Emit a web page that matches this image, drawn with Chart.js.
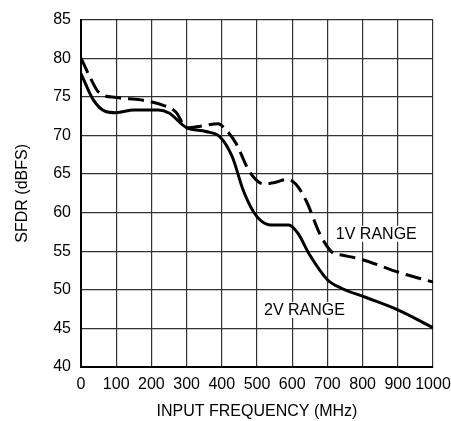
<!DOCTYPE html>
<html>
<head>
<meta charset="utf-8">
<script src="https://cdn.jsdelivr.net/npm/chart.js@4/dist/chart.umd.min.js"></script>
<style>
  html, body { margin: 0; padding: 0; background: #fff; }
  #wrap { width: 451px; height: 421px; }
</style>
</head>
<body>
<div id="wrap"><canvas id="chart" width="451" height="421"></canvas></div>
<script>
// 1V range (dashed) - frequency MHz / SFDR dBFS
const freq1V = [0, 25, 50, 100, 170, 240, 270, 300, 340, 390, 410, 440, 480, 520, 550, 585, 610, 640, 680, 715, 740, 800, 900, 1000];
const sfdr1V = [80, 77.6, 75.6, 74.9, 74.6, 73.8, 73.0, 71.0, 71.2, 71.5, 70.8, 69.0, 65.2, 63.7, 63.9, 64.3, 63.7, 61.5, 57.1, 54.8, 54.5, 53.9, 52.3, 51.0];

// 2V range (solid)
const freq2V = [0, 35, 70, 100, 150, 220, 250, 300, 355, 395, 430, 460, 490, 510, 540, 590, 615, 650, 700, 740, 810, 900, 1000];
const sfdr2V = [78, 74.6, 73.1, 72.95, 73.3, 73.3, 72.9, 71.0, 70.5, 69.8, 67.2, 63.0, 60.1, 59.0, 58.4, 58.4, 57.4, 54.5, 51.3, 50.2, 49.0, 47.4, 45.1];

const xTicks = [0, 100, 200, 300, 400, 500, 600, 700, 800, 900, 1000];
const yTicks = [40, 45, 50, 55, 60, 65, 70, 75, 80, 85];

// curve labels (value coords)
const labels = [
  { text: "1V RANGE", x: 724, y: 57.25 },
  { text: "2V RANGE", x: 520, y: 47.4 }
];

const FONT = "'Liberation Sans', Arial, sans-serif";
const SIZE = 16;

const toPts = (xs, ys) => xs.map((x, i) => ({ x: x, y: ys[i] }));

const curveLabels = {
  id: "curveLabels",
  afterDatasetsDraw(chart) {
    const ctx = chart.ctx;
    const xs = chart.scales.x, ys = chart.scales.y;
    ctx.save();
    ctx.font = SIZE + "px " + FONT;
    ctx.textBaseline = "middle";
    labels.forEach(l => {
      const px = xs.getPixelForValue(l.x);
      const py = ys.getPixelForValue(l.y);
      const w = ctx.measureText(l.text).width;
      ctx.fillStyle = "#fff";
      ctx.fillRect(px - 2, py - 8, w + 4, 16);
      ctx.fillStyle = "#000";
      ctx.fillText(l.text, px, py + 1);
    });
    ctx.restore();
  }
};

new Chart(document.getElementById("chart"), {
  type: "line",
  data: {
    datasets: [
      {
        label: "1V RANGE",
        data: toPts(freq1V, sfdr1V),
        borderColor: "#000",
        borderWidth: 3,
        borderDash: [16, 7],
        pointRadius: 0,
        fill: false,
        cubicInterpolationMode: "monotone"
      },
      {
        label: "2V RANGE",
        data: toPts(freq2V, sfdr2V),
        borderColor: "#000",
        borderWidth: 3,
        pointRadius: 0,
        fill: false,
        cubicInterpolationMode: "monotone"
      }
    ]
  },
  options: {
    responsive: false,
    animation: false,
    layout: { padding: { top: 15, right: 18, left: 0, bottom: 0 } },
    plugins: {
      legend: { display: false },
      tooltip: { enabled: false }
    },
    scales: {
      x: {
        type: "linear",
        min: 0,
        max: 1000,
        afterBuildTicks: (s) => { s.ticks = xTicks.map(v => ({ value: v })); },
        afterFit: (s) => { s.height = 54; s.paddingLeft = 0; s.paddingRight = 0; },
        grid: { color: "#333", lineWidth: 1.2, drawTicks: false },
        border: { color: "#000", width: 2 },
        ticks: { color: "#000", font: { family: FONT, size: SIZE }, padding: 8, maxRotation: 0, autoSkip: false,
                 callback: (v) => String(v) },
        title: { display: true, text: "INPUT FREQUENCY (MHz)", color: "#000", font: { family: FONT, size: SIZE }, padding: { top: 4, bottom: 0 } }
      },
      y: {
        min: 40,
        max: 85,
        afterBuildTicks: (s) => { s.ticks = yTicks.map(v => ({ value: v })); },
        afterFit: (s) => { s.width = 81; },
        grid: { color: "#333", lineWidth: 1.2, drawTicks: false },
        border: { color: "#000", width: 2 },
        ticks: { color: "#000", font: { family: FONT, size: SIZE }, padding: 10, autoSkip: false },
        title: { display: true, text: "SFDR (dBFS)", color: "#000", font: { family: FONT, size: SIZE }, padding: { top: 13, bottom: 0 } }
      }
    }
  },
  plugins: [curveLabels]
});
</script>
</body>
</html>
